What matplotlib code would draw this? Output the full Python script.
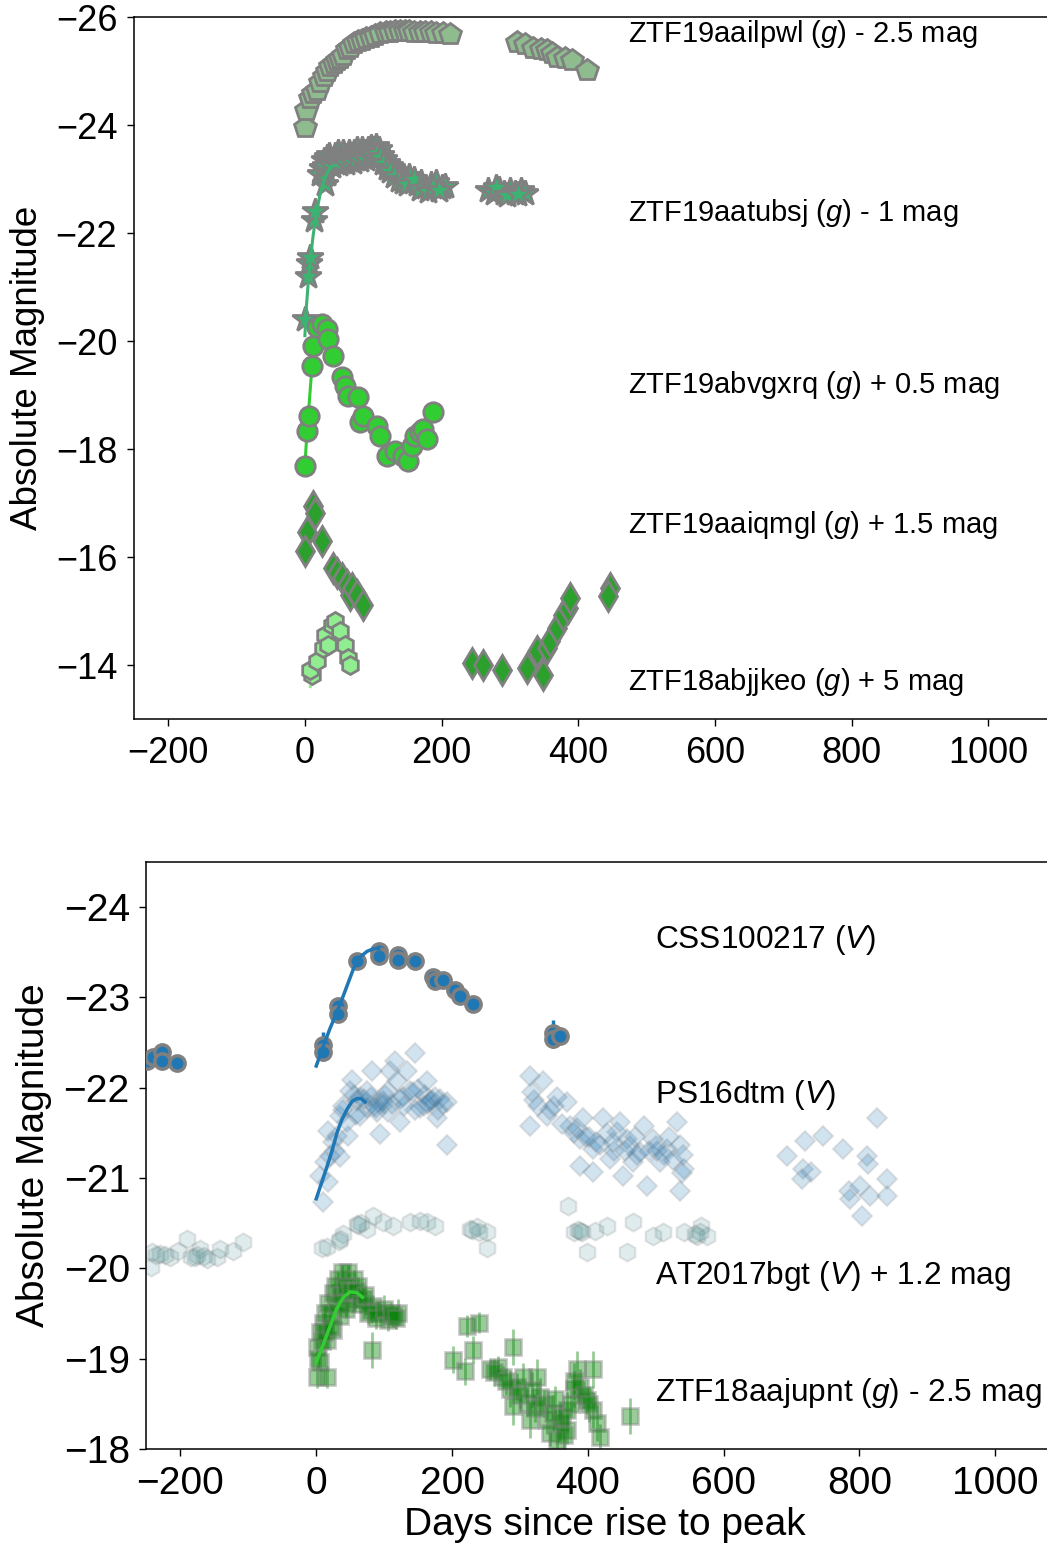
import matplotlib
matplotlib.use("Agg")
import matplotlib.pyplot as plt

plt.rcParams["font.family"] = ["Liberation Sans", "DejaVu Sans"]
plt.rcParams["mathtext.fontset"] = "custom"
plt.rcParams["mathtext.rm"] = "Liberation Sans"
plt.rcParams["mathtext.it"] = "Liberation Sans:italic"

# ---------------- top panel data (days, absolute mag incl. offsets) ----------------
pwl_x = [0, 1, 8, 12, 17, 22, 28, 33, 37, 42, 47, 51, 56, 62, 66, 72, 78, 84, 90, 96,
         103, 110, 118, 125, 132, 139, 146, 153, 160, 168, 176, 184, 192, 202, 212,
         310, 322, 334, 345, 354, 362, 369, 380, 391, 413]
pwl_y = [-23.97, -24.28, -24.5, -24.6, -24.65, -24.8, -24.9, -25.0, -25.1, -25.15, -25.2, -25.25,
         -25.3, -25.4, -25.45, -25.52, -25.55, -25.58, -25.62, -25.64, -25.66, -25.7, -25.72,
         -25.73, -25.74, -25.75, -25.75, -25.74, -25.73, -25.72, -25.73, -25.72, -25.71, -25.7,
         -25.68, -25.54, -25.5, -25.43, -25.41, -25.39, -25.33, -25.26, -25.24, -25.2, -25.02]
pwl_fit_x = [0, 10, 20, 30, 40, 50, 60, 70, 80, 90, 100]
pwl_fit_y = [-23.8, -24.4, -24.75, -25.0, -25.15, -25.3, -25.4, -25.48, -25.55, -25.6, -25.63]

sj_x = [0, 4, 6, 7, 14, 15, 30, 33, 25, 28, 32, 36, 40, 44, 48, 52, 56, 60, 64, 68, 72, 76,
        80, 84, 88, 92, 96, 100, 104, 108, 112, 116, 120, 124, 128, 134, 140, 146, 152, 158,
        164, 170, 176, 184, 192, 200, 205, 268, 276, 284, 292, 300, 308, 316, 322,
        22, 26, 30, 35, 40, 45, 50, 55, 60, 65, 70, 75, 80, 85, 90, 95, 100, 105, 110, 115,
        120, 125, 130, 138, 144, 150, 160, 168, 180, 188, 196, 280, 296, 312]
sj_y = [-20.4, -21.2, -21.45, -21.55, -22.25, -22.4, -22.9, -23.1, -23.2, -23.35, -23.4, -23.45,
        -23.35, -23.45, -23.5, -23.4, -23.5, -23.42, -23.5, -23.45, -23.5, -23.55, -23.48, -23.55,
        -23.5, -23.55, -23.6, -23.55, -23.62, -23.55, -23.45, -23.38, -23.3, -23.25, -23.2, -23.1,
        -23.05, -23.0, -23.05, -22.95, -22.9, -22.95, -22.85, -22.9, -22.95, -22.85, -22.88,
        -22.8, -22.75, -22.82, -22.75, -22.8, -22.75, -22.8, -22.75,
        -23.1, -23.2, -23.25, -23.3, -23.25, -23.3, -23.28, -23.32, -23.3, -23.35, -23.32,
        -23.38, -23.35, -23.4, -23.38, -23.42, -23.45, -23.48, -23.4, -23.3, -23.2, -23.15,
        -23.05, -22.98, -22.95, -22.9, -23.0, -22.82, -22.78, -22.85, -22.8, -22.85, -22.7, -22.72]
sj_fit_x = [0, 2, 5, 8, 12, 17, 22, 27, 32, 37, 42, 46]
sj_fit_y = [-20.1, -20.6, -21.1, -21.5, -21.95, -22.38, -22.7, -22.94, -23.1, -23.21, -23.25, -23.25]

xrq_x = [0, 3, 6, 10, 12, 18, 25, 32, 34, 41, 54, 59, 63, 78, 80, 85, 105, 110, 120, 132,
         143, 151, 157, 161, 168, 173, 178, 187]
xrq_y = [-17.69, -18.34, -18.62, -19.54, -19.91, -20.26, -20.31, -20.22, -20.04, -19.72,
         -19.34, -19.17, -18.99, -18.97, -18.5, -18.62, -18.43, -18.25, -17.88, -17.97,
         -17.88, -17.77, -18.06, -18.25, -18.32, -18.38, -18.19, -18.69]
xrq_fit_x = [0, 3, 6, 9, 12]
xrq_fit_y = [-17.7, -18.3, -18.8, -19.3, -19.7]

mgl_x = [12, 15, 3, 0, 25, 41, 47, 54, 61, 66, 69, 76, 85,
         244, 260, 288, 325, 348, 339, 354, 358, 369, 377, 385, 388, 446, 443]
mgl_y = [-16.95, -16.81, -16.47, -16.12, -16.29, -15.79, -15.7, -15.61, -15.48, -15.29, -15.42,
         -15.29, -15.11, -14.04, -14.0, -13.91, -13.95, -13.82, -14.26, -14.31, -14.44, -14.68,
         -14.92, -15.05, -15.24, -15.42, -15.27]
mgl_fit_x = [4, 8, 12]
mgl_fit_y = [-16.8, -17.0, -17.1]

keo_x = [10, 7, 17, 26, 29, 40, 44, 51, 59, 63, 66, 34]
keo_y = [-13.82, -13.91, -14.07, -14.31, -14.55, -14.74, -14.81, -14.63, -14.37, -14.13, -14.0, -14.37]
keo_fit_x = [8, 12, 18, 24, 30]
keo_fit_y = [-13.6, -13.85, -14.1, -14.3, -14.45]

top_labels = ["ZTF19aailpwl ($g$) - 2.5 mag", "ZTF19aatubsj ($g$) - 1 mag",
              "ZTF19abvgxrq ($g$) + 0.5 mag", "ZTF19aaiqmgl ($g$) + 1.5 mag",
              "ZTF18abjjkeo ($g$) + 5 mag"]
top_label_y = [-25.69, -22.38, -19.19, -16.59, -13.69]

# ---------------- bottom panel data ----------------
css_x = [-249, -240, -227, -227, -205, 10, 10, 32, 32, 60, 93, 93, 121, 121, 146, 172, 175,
         187, 205, 212, 231, 348, 348, 359]
css_y = [-22.29, -22.34, -22.4, -22.3, -22.27, -22.47, -22.4, -22.9, -22.82, -23.4, -23.51,
         -23.46, -23.47, -23.41, -23.4, -23.23, -23.18, -23.19, -23.08, -23.02, -22.93, -22.6,
         -22.54, -22.57]
css_err = [0.05, 0.05, 0.05, 0.05, 0.04, 0.15, 0.1, 0.08, 0.08, 0.05, 0.04, 0.04, 0.04, 0.04,
           0.04, 0.04, 0.04, 0.04, 0.04, 0.04, 0.04, 0.15, 0.1, 0.05]
css_fit_x = [0, 10, 20, 35, 45, 55, 65, 75, 85, 92]
css_fit_y = [-22.24, -22.45, -22.65, -22.92, -23.12, -23.32, -23.45, -23.51, -23.54, -23.54]

dtm_x = [10, 6, 18, 13, 21, 35, 18, 31, 47, 35, 40, 50, 53, 65, 75, 82, 94, 91, 106, 109, 116,
         119, 124, 134, 138, 146, 150, 153, 163, 171, 178, 183, 193, 193, 90, 105, 65, 46, 124,
         158, 75,
         55, 60, 70, 80, 85, 98, 102, 112, 128, 142, 160, 168, 175, 186, 40, 58, 88, 100, 130,
         145, 165, 180, 28, 25,
         315, 320, 334, 315, 340, 355, 370, 374, 389, 393, 408, 418, 423, 433, 443, 448, 458,
         467, 477, 482, 496, 507, 487, 517, 532, 536, 541, 536, 452, 389, 408,
         318, 326, 345, 362, 380, 398, 412, 428, 438, 462, 472, 490, 502, 512, 525, 540, 538,
         350, 384, 402, 437, 455, 470, 500, 520,
         826, 720, 747, 776, 694, 717, 728, 716, 811, 813, 841, 784, 801, 816, 841, 804, 786]
dtm_y = [-20.73, -21.02, -20.96, -21.18, -21.24, -21.23, -21.52, -21.47, -21.46, -21.69, -21.8,
         -21.96, -22.08, -21.9, -21.77, -22.19, -21.49, -21.84, -21.96, -22.18, -22.29, -22.07,
         -21.88, -22.19, -21.96, -22.38, -21.99, -21.77, -22.07, -21.86, -21.66, -21.88, -21.84,
         -21.36, -21.73, -21.73, -21.69, -21.62, -21.62, -21.8, -21.96,
         -21.92, -21.85, -21.88, -21.9, -21.8, -21.85, -21.92, -21.82, -21.9, -21.95, -21.92,
         -21.85, -21.9, -21.82, -21.75, -21.7, -21.78, -21.82, -21.8, -21.75, -21.82, -21.75,
         -21.3, -21.4,
         -22.13, -21.86, -22.07, -21.58, -21.69, -21.9, -21.84, -21.58, -21.43, -21.66, -21.32,
         -21.36, -21.66, -21.21, -21.51, -21.62, -21.43, -21.18, -21.29, -21.58, -21.43, -21.18,
         -20.91, -21.32, -21.62, -21.36, -21.1, -20.86, -21.02, -21.13, -21.07,
         -21.95, -21.8, -21.75, -21.6, -21.5, -21.45, -21.4, -21.5, -21.3, -21.35, -21.25,
         -21.3, -21.3, -21.25, -21.2, -21.25, -21.05, -21.8, -21.55, -21.45, -21.4, -21.3,
         -21.45, -21.35, -21.45,
         -21.66, -21.41, -21.47, -21.32, -21.24, -21.1, -21.07, -20.99, -21.24, -21.16, -20.99,
         -20.86, -20.91, -20.8, -20.8, -20.58, -20.77]
dtm_fit_x = [0, 8, 16, 24, 31, 38, 46, 53, 60, 66, 72]
dtm_fit_y = [-20.77, -20.95, -21.13, -21.32, -21.51, -21.65, -21.77, -21.85, -21.88, -21.88, -21.84]

bgt_x = [-242, -230, -215, -203, -190, -178, -171, -161, -146, -141, -122, -108, -244,
         9, 16, 35, 40, 60, 75, 84, 99, 113, 138, 153, 163, 175, 227, 237, 252, 252,
         371, 379, 389, 399, 411, 428, 458, 467, 496, 511, 541, 561, 566, 576,
         -236, -222, -185, -175, -166, 33, 62, 66, 230, 240, 385, 392, 558, 565]
bgt_y = [-20.18, -20.16, -20.13, -20.19, -20.32, -20.13, -20.21, -20.1, -20.13, -20.21, -20.19,
         -20.29, -20.02, -20.23, -20.24, -20.32, -20.38, -20.49, -20.43, -20.58, -20.51, -20.47,
         -20.51, -20.52, -20.51, -20.47, -20.43, -20.46, -20.4, -20.23, -20.69, -20.4, -20.41,
         -20.18, -20.41, -20.47, -20.18, -20.51, -20.36, -20.4, -20.4, -20.36, -20.47, -20.36,
         -20.15, -20.15, -20.12, -20.15, -20.14, -20.3, -20.48, -20.5, -20.42, -20.4, -20.42,
         -20.4, -20.38, -20.4]

pnt_x = [1, 6, 1, 6, 10, 13, 18, 24, 28, 32, 38, 47, 55, 62, 16, 25, 35, 46, 55, 69, 84, 94,
         105, 113, 121, 82, 80, 16,
         3, 8, 12, 20, 22, 30, 36, 42, 44, 50, 58, 65, 72, 76, 88, 100, 110, 118,
         202, 219, 222, 239, 231, 256, 268, 275, 290, 286, 296, 305, 290, 311, 325, 330, 315,
         340, 345, 359, 370, 370, 379, 384, 389, 399, 408, 413, 418, 408, 462, 355,
         262, 280, 300, 318, 322, 335, 348, 352, 362, 365, 375, 380, 394, 402]
pnt_y = [-18.8, -18.96, -19.13, -19.29, -19.4, -19.51, -19.62, -19.73, -19.8, -19.88, -19.96,
         -19.96, -19.88, -19.8, -19.21, -19.32, -19.47, -19.62, -19.66, -19.66, -19.58, -19.51,
         -19.43, -19.47, -19.51, -19.1, -19.54, -18.8,
         -19.0, -19.2, -19.3, -19.5, -19.35, -19.6, -19.7, -19.8, -19.55, -19.75, -19.75, -19.6,
         -19.7, -19.5, -19.45, -19.55, -19.5, -19.45,
         -18.99, -18.86, -19.36, -19.4, -19.1, -18.88, -18.91, -18.8, -19.13, -18.66, -18.69,
         -18.8, -18.47, -18.51, -18.8, -18.58, -18.32, -18.32, -18.18, -18.29, -18.43, -18.21,
         -18.66, -18.88, -18.69, -18.54, -18.43, -18.29, -18.13, -18.88, -18.36, -18.1,
         -18.85, -18.75, -18.6, -18.65, -18.45, -18.5, -18.4, -18.55, -18.35, -18.15, -18.5,
         -18.75, -18.6, -18.5]
pnt_err = [0.12, 0.1, 0.1, 0.1, 0.1, 0.1, 0.1, 0.1, 0.1, 0.08, 0.08, 0.08, 0.1, 0.1, 0.1, 0.1,
           0.1, 0.1, 0.1, 0.12, 0.12, 0.1, 0.12, 0.12, 0.15, 0.2, 0.15, 0.12,
           0.1, 0.1, 0.1, 0.1, 0.1, 0.1, 0.1, 0.1, 0.1, 0.1, 0.1, 0.1, 0.12, 0.12, 0.12, 0.15,
           0.12, 0.12,
           0.15, 0.15, 0.12, 0.12, 0.15, 0.12, 0.12, 0.12, 0.2, 0.2, 0.15, 0.15, 0.2, 0.15, 0.2,
           0.2, 0.2, 0.15, 0.15, 0.2, 0.2, 0.15, 0.2, 0.2, 0.2, 0.15, 0.2, 0.2, 0.15, 0.2, 0.2,
           0.2,
           0.15, 0.15, 0.15, 0.2, 0.15, 0.15, 0.2, 0.15, 0.15, 0.2, 0.15, 0.2, 0.15, 0.2]
pnt_fit_x = [0, 10, 20, 30, 40, 50, 60, 68]
pnt_fit_y = [-18.96, -19.15, -19.35, -19.55, -19.68, -19.74, -19.73, -19.68]

bottom_labels = ["CSS100217 ($V$)", "PS16dtm ($V$)", "AT2017bgt ($V$) + 1.2 mag",
                 "ZTF18aajupnt ($g$) - 2.5 mag"]
bottom_label_y = [-23.63, -21.92, -19.91, -18.62]

fig = plt.figure(figsize=(10.47, 15.51), dpi=100)

# ---------------- top panel ----------------
ax1 = fig.add_axes([0.128, 0.5364, 0.8813, 0.4526])
ax1.plot(sj_x, sj_y, "*", ms=19, mfc="mediumseagreen", mec="gray", mew=2, zorder=2)
ax1.plot(sj_fit_x, sj_fit_y, "-", color="mediumseagreen", lw=2.2, zorder=3)
ax1.plot(xrq_x, xrq_y, "o", ms=14, mfc="limegreen", mec="gray", mew=2, zorder=2)
ax1.plot(xrq_fit_x, xrq_fit_y, "-", color="limegreen", lw=2.2, zorder=1)
ax1.plot(mgl_x, mgl_y, "d", ms=15, mfc="#2ca02c", mec="gray", mew=2, zorder=2)
ax1.plot(mgl_fit_x, mgl_fit_y, "-", color="#2ca02c", lw=2.2, zorder=1)
ax1.plot(keo_fit_x, keo_fit_y, "-", color="lightgreen", lw=2.2, zorder=1)
ax1.plot(keo_x, keo_y, "h", ms=13, mfc="lightgreen", mec="gray", mew=2, zorder=2)
ax1.plot(pwl_fit_x, pwl_fit_y, "-", color="darkseagreen", lw=2.2, zorder=1)
ax1.plot(pwl_x, pwl_y, "p", ms=16, mfc="darkseagreen", mec="gray", mew=2, zorder=2)

for lab, ly in zip(top_labels, top_label_y):
    ax1.text(473, ly, lab, fontsize=21, va="center", ha="left")

ax1.set_xlim(-250, 1100)
ax1.set_ylim(-13, -26)
ax1.set_yticks([-26, -24, -22, -20, -18, -16, -14])
ax1.set_xticks([-200, 0, 200, 400, 600, 800, 1000])
ax1.set_ylabel("Absolute Magnitude", fontsize=26.5, labelpad=8)
ax1.tick_params(labelsize=26, length=5, width=1, pad=7)
for s in ax1.spines.values():
    s.set_linewidth(1.1)

# ---------------- bottom panel ----------------
ax2 = fig.add_axes([0.1399, 0.0658, 0.8755, 0.3785])
ax2.errorbar(css_x, css_y, yerr=css_err, fmt="o", ms=11, mfc="#1f77b4", mec="gray", mew=2.5,
             ecolor="#1f77b4", elinewidth=2.5, zorder=3)
ax2.plot(css_fit_x, css_fit_y, "-", color="#1f77b4", lw=2.5, zorder=4)
ax2.plot(dtm_x, dtm_y, "D", ms=10, mfc="#1f77b4", mec="gray", mew=1.5, alpha=0.2, zorder=2)
ax2.plot(dtm_fit_x, dtm_fit_y, "-", color="#1f77b4", lw=2.5, zorder=4)
ax2.plot(bgt_x, bgt_y, "h", ms=13, mfc="cadetblue", mec="gray", mew=1.5, alpha=0.2, zorder=2)
ax2.errorbar(pnt_x, pnt_y, yerr=pnt_err, fmt="s", ms=11, mfc="green", mec="gray", mew=2,
             ecolor="green", elinewidth=2, alpha=0.4, zorder=2)
ax2.plot(pnt_fit_x, pnt_fit_y, "-", color="limegreen", lw=2.5, zorder=4)

for lab, ly in zip(bottom_labels, bottom_label_y):
    ax2.text(499, ly, lab, fontsize=22.8, va="center", ha="left")

ax2.set_xlim(-250, 1100)
ax2.set_ylim(-18, -24.5)
ax2.set_yticks([-24, -23, -22, -21, -20, -19, -18])
ax2.set_xticks([-200, 0, 200, 400, 600, 800, 1000])
ax2.set_ylabel("Absolute Magnitude", fontsize=28, labelpad=8)
ax2.set_xlabel("Days since rise to peak", fontsize=28, labelpad=4)
ax2.tick_params(labelsize=28, length=5, width=1, pad=7)
for s in ax2.spines.values():
    s.set_linewidth(1.1)

fig.savefig("out.png", dpi=100)
